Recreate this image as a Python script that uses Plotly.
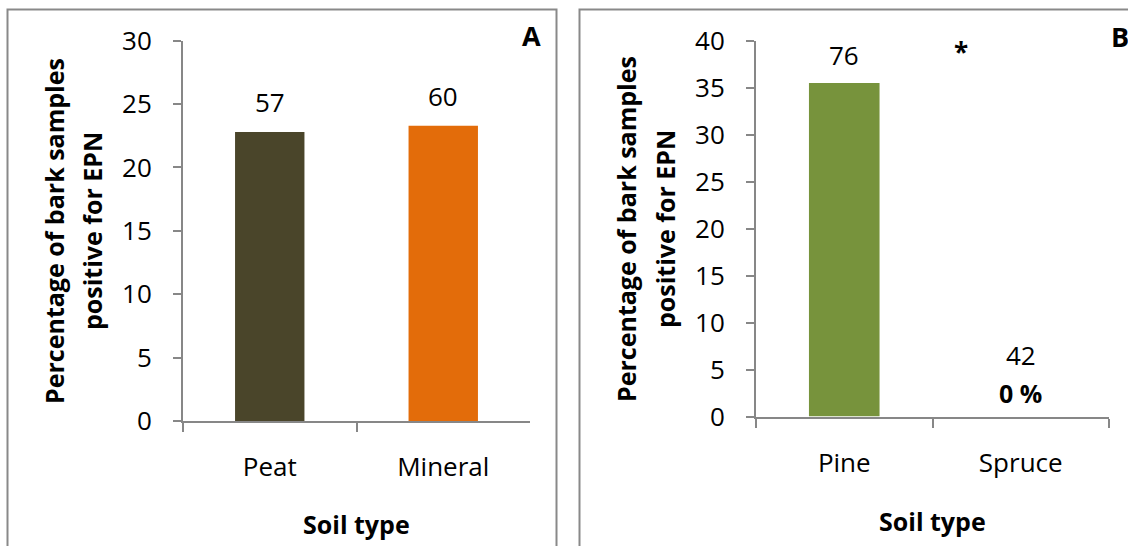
import plotly.graph_objects as go

# panel A: soil type
soil = ["Peat", "Mineral"]
soil_pct = [22.8, 23.3]
soil_n = [57, 60]
soil_colors = ["#4A452A", "#E36C0A"]

# panel B: tree species
tree = ["Pine", "Spruce"]
tree_pct = [35.5, 0]
tree_n = [76, 42]
tree_colors = ["#77933C", "#77933C"]

W, H = 1128, 546
FONT = "Open Sans"
AX = "#878787"


def px_x(v):
    return v / W


def px_y(v):
    return 1 - v / H


def label(text, x, y, size=25, angle=0, **kw):
    fig.add_annotation(x=x, y=y, text=text, showarrow=False, textangle=angle,
                       xanchor="center", yanchor="middle",
                       font=dict(size=size, family=FONT, color="black"), **kw)


fig = go.Figure()
fig.add_trace(go.Bar(x=soil, y=soil_pct, marker_color=soil_colors, width=0.4,
                     xaxis="x", yaxis="y", showlegend=False, hoverinfo="skip"))
fig.add_trace(go.Bar(x=tree, y=tree_pct, marker_color=tree_colors, width=0.4,
                     xaxis="x2", yaxis="y2", showlegend=False, hoverinfo="skip"))

common_x = dict(type="category", showline=True, linecolor=AX, linewidth=2,
                ticks="outside", tickson="boundaries", ticklen=9, tickwidth=2,
                tickcolor=AX, ticklabelstandoff=22, showgrid=False, zeroline=False,
                tickfont=dict(size=26, color="black", family=FONT),
                automargin=False, fixedrange=True)
common_y = dict(showline=True, linecolor=AX, linewidth=2, ticks="outside",
                ticklen=8, tickwidth=2, tickcolor=AX, dtick=5, showgrid=False,
                zeroline=False, ticklabelstandoff=16,
                tickfont=dict(size=26, color="black", family=FONT),
                automargin=False, fixedrange=True)

fig.update_layout(
    template="none",
    width=W, height=H, autosize=False,
    margin=dict(l=0, r=0, t=0, b=0, pad=0),
    paper_bgcolor="white", plot_bgcolor="white",
    font=dict(family=FONT, size=24, color="black"),
    xaxis=dict(domain=[px_x(183), px_x(530)], anchor="y", **common_x),
    yaxis=dict(domain=[px_y(421), px_y(40.7)], anchor="x", range=[0, 30], **common_y),
    xaxis2=dict(domain=[px_x(756), px_x(1109)], anchor="y2", **common_x),
    yaxis2=dict(domain=[px_y(416.5), px_y(40.7)], anchor="x2", range=[0, 40], **common_y),
)

# sample-size labels above the bars
for cat, val, n in zip(soil, soil_pct, soil_n):
    label(str(n), cat, val, size=26, xref="x", yref="y", yshift=30)
for cat, val, n in zip(tree, tree_pct, tree_n):
    shift = 28 if val > 0 else 62
    label(str(n), cat, val, size=26, xref="x2", yref="y2", yshift=shift)
    if val == 0:
        label("<b>0 %</b>", cat, val, xref="x2", yref="y2", yshift=24)

label("<b>*</b>", 0.66, 38.8, size=26, xref="x2", yref="y2")

# panel letters
label("<b>A</b>", px_x(531), px_y(36), size=27, xref="paper", yref="paper")
label("<b>B</b>", px_x(1120), px_y(37), size=27, xref="paper", yref="paper")

# axis titles
for cx, cy in [(356, 524), (932, 521)]:
    label("<b>Soil type</b>", px_x(cx), px_y(cy), xref="paper", yref="paper")
for x1, x2, cy in [(54, 92, 231), (626, 665, 229)]:
    label("<b>Percentage of bark samples</b>", px_x(x1), px_y(cy), angle=-90,
          xref="paper", yref="paper")
    label("<b>positive for EPN</b>", px_x(x2), px_y(cy), angle=-90,
          xref="paper", yref="paper")

# panel frames
fig.add_shape(type="rect", xref="paper", yref="paper",
              x0=px_x(7.5), x1=px_x(556.5), y0=-0.05, y1=px_y(9.5),
              line=dict(color="#898989", width=2))
fig.add_shape(type="rect", xref="paper", yref="paper",
              x0=px_x(579.5), x1=1.05, y0=-0.05, y1=px_y(9.5),
              line=dict(color="#898989", width=2))

fig.write_html("out.html", config={"displayModeBar": False},
               post_script="document.body.style.margin='0';")
